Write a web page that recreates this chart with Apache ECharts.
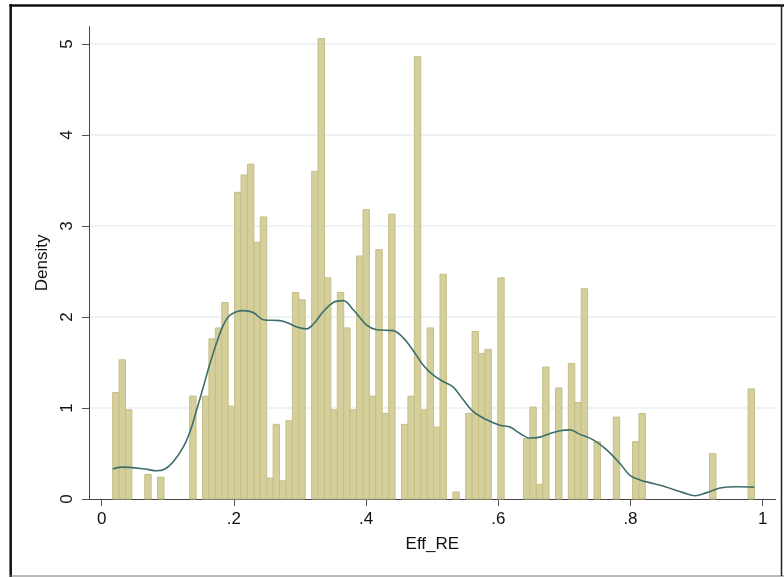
<!DOCTYPE html>
<html>
<head>
<meta charset="utf-8">
<script src="https://cdn.jsdelivr.net/npm/echarts@6.0.0/dist/echarts.min.js"></script>
<style>
html,body{margin:0;padding:0;background:#fff;}
#chart{width:784px;height:577px;}
</style>
</head>
<body>
<div id="chart"></div>
<script>
// Histogram: first bin edge, bin width, and the density of each bin
const binStart = 0.0166;
const binWidth = 0.00971;
const binHeights = [
  1.17,1.53,0.98,0,0,0.27,0,0.24,0,0,
  0,0,1.13,0,1.13,1.76,1.88,2.16,1.02,3.37,
  3.56,3.68,2.82,3.10,0.23,0.82,0.20,0.86,2.27,2.19,
  0,3.60,5.06,2.43,0.98,2.27,1.88,0.98,2.67,3.18,
  1.13,2.74,0.94,3.13,0,0.82,1.13,4.86,0.98,1.88,
  0.79,2.47,0,0.077,0,0.94,1.84,1.60,1.645,0,
  2.43,0,0,0,0.665,1.01,0.16,1.45,0,1.22,
  0,1.49,1.06,2.31,0,0.63,0,0,0.90,0,
  0,0.63,0.94,0,0,0,0,0,0,0,
  0,0,0,0.50,0,0,0,0,0,1.21
];
// Kernel density curve
const densX = [0.0166,0.0297,0.0655,0.0832,0.0958,0.1083,0.1234,0.1336,0.1437,0.1537,0.1638,0.174,0.184,0.1941,0.2142,0.2293,0.2445,0.2697,0.2799,0.295,0.3101,0.3201,0.3353,0.3504,0.3655,0.3806,0.4009,0.416,0.4411,0.4563,0.4714,0.4865,0.5017,0.5168,0.5319,0.547,0.5622,0.5825,0.6026,0.6177,0.6329,0.648,0.6631,0.6783,0.6934,0.7085,0.7236,0.7437,0.764,0.7841,0.7992,0.8144,0.8345,0.8548,0.8799,0.8976,0.9153,0.9354,0.9607,0.9873];
const densY = [0.33,0.35,0.33,0.31,0.33,0.41,0.57,0.74,0.98,1.23,1.49,1.72,1.91,2.02,2.07,2.05,1.97,1.96,1.94,1.89,1.87,1.92,2.06,2.16,2.18,2.08,1.91,1.86,1.85,1.77,1.63,1.47,1.36,1.29,1.23,1.09,0.96,0.87,0.81,0.79,0.72,0.67,0.68,0.72,0.75,0.76,0.71,0.65,0.54,0.39,0.26,0.21,0.17,0.13,0.07,0.036,0.07,0.12,0.135,0.13];
// Axis ticks
const xTicks = [0,0.2,0.4,0.6,0.8,1];
const xTickLabels = ['0','.2','.4','.6','.8','1'];
const yTicks = [0,1,2,3,4,5];
const yTickLabels = ['0','1','2','3','4','5'];

const histData = binHeights.map((h,i)=>[binStart+i*binWidth, binStart+(i+1)*binWidth, h]).filter(d=>d[2]>0);
const densData = densX.map((x,i)=>[x,densY[i]]);

const FONT = 'Liberation Sans, Arial, Helvetica, sans-serif';
const chart = echarts.init(document.getElementById('chart'), null, {renderer:'canvas'});
chart.setOption({
  animation:false,
  backgroundColor:'#ffffff',
  grid:{left:89, right:8.3, top:26.7, bottom:78, containLabel:false, outerBoundsMode:'none'},
  xAxis:{
    type:'value', min:-0.0192, max:1.0197,
    name:'Eff_RE', nameLocation:'middle', nameGap:37,
    nameTextStyle:{fontSize:17, color:'#111', fontFamily:FONT},
    axisLine:{show:true, onZero:false, lineStyle:{color:'#444', width:1}},
    axisTick:{show:true, length:7, customValues:xTicks, lineStyle:{color:'#555', width:1}},
    axisLabel:{show:true, customValues:xTicks, margin:12, fontSize:17, color:'#111', fontFamily:FONT,
      formatter:(v)=>{const i=xTicks.findIndex(t=>Math.abs(t-v)<1e-9); return i>=0?xTickLabels[i]:'';}},
    splitLine:{show:false}
  },
  yAxis:{
    type:'value', min:0, max:5.19,
    name:'Density', nameLocation:'middle', nameGap:27,
    nameTextStyle:{fontSize:17, color:'#111', fontFamily:FONT},
    axisLine:{show:true, onZero:false, lineStyle:{color:'#444', width:1}},
    axisTick:{show:true, length:7, customValues:yTicks, lineStyle:{color:'#555', width:1}},
    axisLabel:{show:true, customValues:yTicks, rotate:90, margin:13, fontSize:17, color:'#111', fontFamily:FONT,
      formatter:(v)=>{const i=yTicks.findIndex(t=>Math.abs(t-v)<1e-9); return i>=0?yTickLabels[i]:'';}},
    splitLine:{show:false}
  },
  graphic:[
    {type:'line', shape:{x1:10.7,y1:4,x2:10.7,y2:577}, style:{stroke:'#111', lineWidth:2.5}, z:100},
    {type:'line', shape:{x1:9.5,y1:5.5,x2:784,y2:5.5}, style:{stroke:'#111', lineWidth:2.5}, z:100},
    {type:'line', shape:{x1:10,y1:576,x2:784,y2:576}, style:{stroke:'#777', lineWidth:1.2}, z:100},
    {type:'line', shape:{x1:781.5,y1:5,x2:781.5,y2:576}, style:{stroke:'#222', lineWidth:1.5}, z:100}
  ],
  series:[
    {
      type:'line', data:[], z:0, silent:true,
      markLine:{
        z:0, silent:true, symbol:['none','none'], label:{show:false},
        lineStyle:{color:'#e8f0f0', width:1.5, type:'solid'},
        data:yTicks.filter(v=>v>0).map(v=>({yAxis:v}))
      }
    },
    {
      type:'custom', z:2,
      renderItem:(params, api)=>{
        const p0 = api.coord([api.value(0), api.value(2)]);
        const p1 = api.coord([api.value(1), 0]);
        return {type:'rect', shape:{x:p0[0], y:p0[1], width:p1[0]-p0[0], height:p1[1]-p0[1]},
          style:{fill:'#d4cf9b', stroke:'#c5bf88', lineWidth:1}};
      },
      encode:{x:[0,1], y:2},
      data:histData
    },
    {
      type:'line', z:3, data:densData, smooth:0.35, showSymbol:false, symbol:'none',
      lineStyle:{color:'#3d6e6a', width:1.6}
    }
  ]
});
</script>
</body>
</html>
